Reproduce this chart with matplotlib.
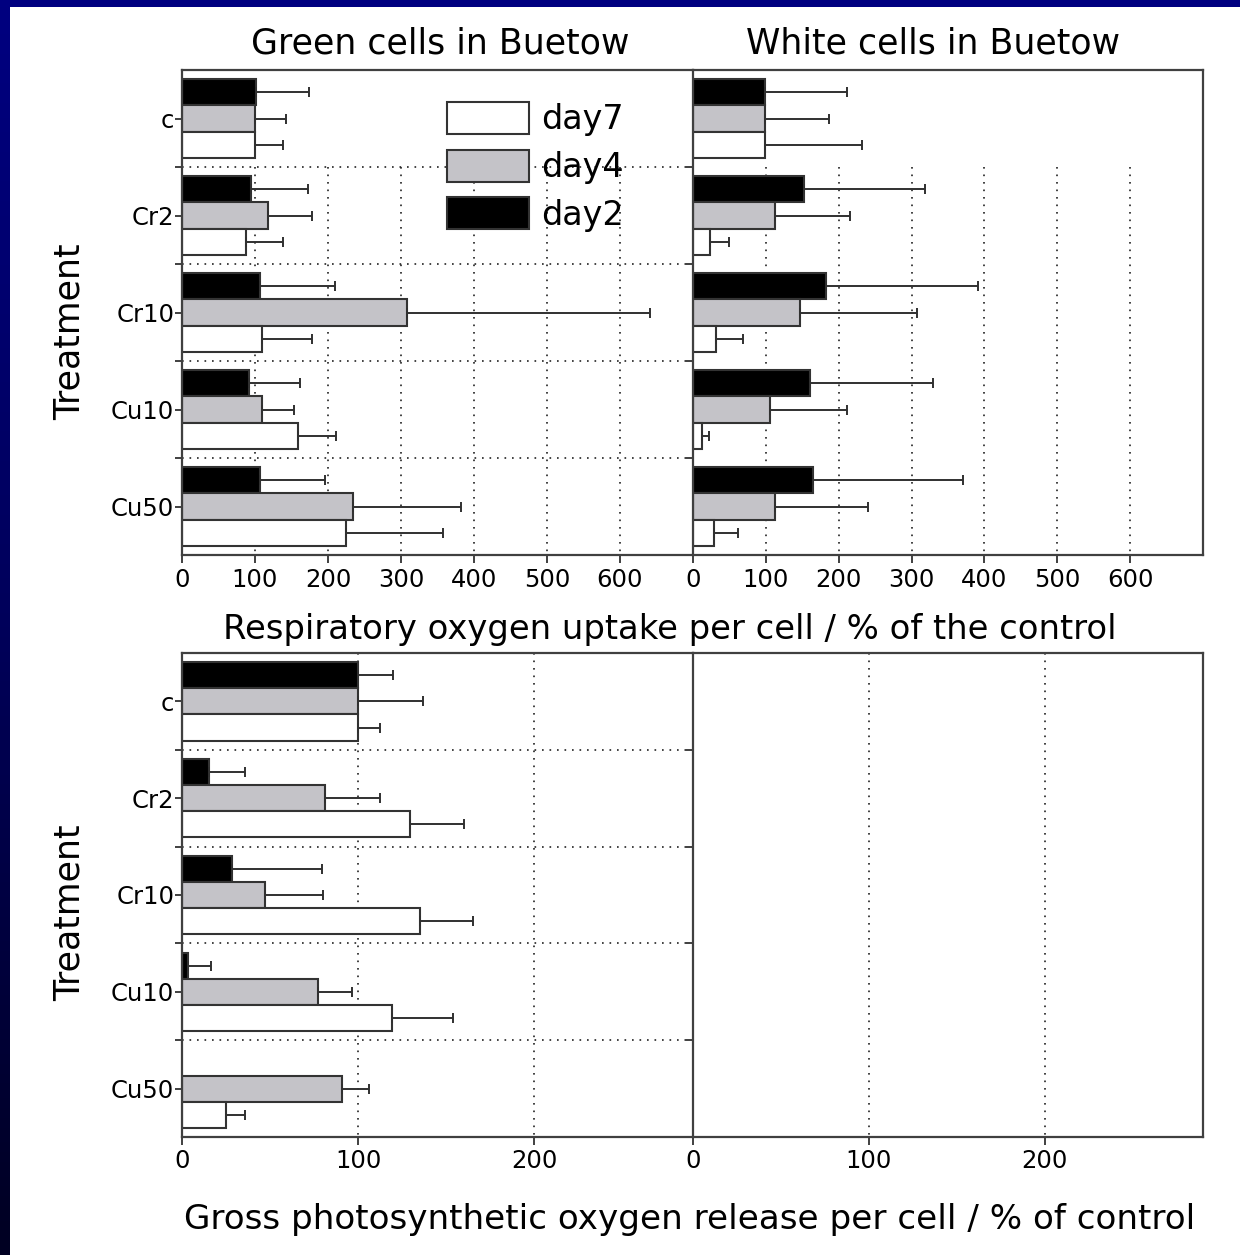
import numpy as np
import matplotlib
matplotlib.use("Agg")
import matplotlib.pyplot as plt
from matplotlib.patches import Patch
from matplotlib.colors import LinearSegmentedColormap

plt.rcParams['font.family'] = ['DejaVu Sans']

# ---------------- data ----------------
treatments = ['c', 'Cr2', 'Cr10', 'Cu10', 'Cu50']
series = ['day2', 'day4', 'day7']

# Green cells in Buetow (respiration, % of control)
green_day2 = [101, 95, 107, 92, 107]
green_day2_err = [73, 78, 103, 69, 89]
green_day4 = [100, 118, 308, 110, 234]
green_day4_err = [43, 60, 333, 43, 148]
green_day7 = [100, 88, 109, 159, 225]
green_day7_err = [39, 50, 69, 52, 132]

# White cells in Buetow (respiration, % of control)
white_day2 = [99, 152, 183, 161, 165]
white_day2_err = [113, 166, 208, 168, 205]
white_day4 = [99, 113, 147, 105, 113]
white_day4_err = [87, 102, 161, 106, 127]
white_day7 = [99, 24, 31, 12, 29]
white_day7_err = [133, 25, 37, 10, 33]

# Green cells, gross photosynthesis (% of control); nan = no bar
photo_day2 = [100, 15.6, 28.4, 3.6, np.nan]
photo_day2_err = [20, 20, 51, 12.7, np.nan]
photo_day4 = [100, 81, 47, 77, 91]
photo_day4_err = [37, 31.6, 33, 19.5, 15.2]
photo_day7 = [100, 129.5, 135, 119, 25]
photo_day7_err = [12.6, 30.5, 30, 35, 10.6]

top_xticks = [0, 100, 200, 300, 400, 500, 600]
bottom_xticks = [0, 100, 200]

# ---------------- style ----------------
colors = {'day2': '#000000', 'day4': '#c4c3c8', 'day7': '#ffffff'}
offsets = {'day2': -0.27, 'day4': 0.0, 'day7': 0.27}
bar_h = 0.27
edge = '#333333'
spine_c = '#404040'
dot_ls = (0, (1, 3.5))
tick_fs = 17.5

W, H = 1240, 1255
fig = plt.figure(figsize=(W / 100, H / 100), dpi=100)
fig.patch.set_facecolor('white')

# navy frame (top band + left gradient band)
band = fig.add_axes([0, 0, 10 / W, 1], zorder=-5)
grad = np.linspace(0, 1, 256).reshape(-1, 1)
cm = LinearSegmentedColormap.from_list('navy', ['#000080', '#00005a', '#000022'])
band.imshow(grad, aspect='auto', cmap=cm, extent=[0, 1, 0, 1], origin='upper')
band.set_axis_off()
topband = fig.add_axes([0, 1 - 7 / H, 1, 7 / H], zorder=-5)
topband.set_facecolor('#000080')
topband.set_xticks([]); topband.set_yticks([])
for s in topband.spines.values():
    s.set_visible(False)


def px_axes(x0, y0, x1, y1):
    return fig.add_axes([x0 / W, 1 - y1 / H, (x1 - x0) / W, (y1 - y0) / H])


ax_tl = px_axes(182, 70, 693, 555)
ax_tr = px_axes(693, 70, 1203, 555)
ax_bl = px_axes(182, 653, 693, 1137)
ax_br = px_axes(693, 653, 1203, 1137)

ypos = np.arange(len(treatments))
bounds = ypos[:-1] + 0.5


def draw(ax, data, xmax, xticks, hgrid, vgrid_from, ylabels):
    ax.set_xlim(0, xmax)
    ax.set_ylim(len(treatments) - 0.5, -0.5)
    # grid
    gx = [t for t in xticks if t > 0]
    ax.vlines(gx, vgrid_from, len(treatments) - 0.5, colors='#222222',
              linestyles=[dot_ls], linewidth=1.2, zorder=0)
    if hgrid:
        ax.hlines(bounds, 0, xmax, colors='#222222', linestyles=[dot_ls],
                  linewidth=1.2, zorder=0)
    for name, (vals, errs) in data.items():
        v = np.array(vals, dtype=float)
        e = np.array(errs, dtype=float)
        m = ~np.isnan(v)
        y = ypos[m] + offsets[name]
        ax.barh(y, v[m], height=bar_h, color=colors[name], edgecolor=edge,
                linewidth=1.5, zorder=2)
        xerr = np.vstack([np.zeros(m.sum()), e[m]])
        ax.errorbar(v[m], y, xerr=xerr, fmt='none', ecolor='#303030',
                    elinewidth=1.4, capsize=3.5, capthick=1.4, zorder=3)
    ax.set_xticks(xticks)
    ax.set_xticklabels([str(t) for t in xticks], fontsize=tick_fs)
    ax.set_yticks(bounds, minor=True)
    if ylabels:
        ax.set_yticks(ypos)
        ax.set_yticklabels(treatments, fontsize=tick_fs)
    else:
        ax.set_yticks([])
    ax.tick_params(axis='both', which='both', direction='out', length=5,
                   width=1.4, color=spine_c, pad=0.5)
    ax.tick_params(axis='x', pad=3, length=6)
    for s in ax.spines.values():
        s.set_color(spine_c)
        s.set_linewidth(1.6)


draw(ax_tl, {'day2': (green_day2, green_day2_err),
             'day4': (green_day4, green_day4_err),
             'day7': (green_day7, green_day7_err)},
     700, top_xticks, True, 0.5, True)
draw(ax_tr, {'day2': (white_day2, white_day2_err),
             'day4': (white_day4, white_day4_err),
             'day7': (white_day7, white_day7_err)},
     700, top_xticks, False, 0.5, False)
draw(ax_bl, {'day2': (photo_day2, photo_day2_err),
             'day4': (photo_day4, photo_day4_err),
             'day7': (photo_day7, photo_day7_err)},
     290, bottom_xticks, True, -0.5, True)
draw(ax_br, {}, 290, bottom_xticks, False, -0.5, False)
ax_tl.spines['right'].set_visible(False)
ax_bl.spines['right'].set_visible(False)

# legend
handles = [Patch(facecolor=colors[s], edgecolor=edge, linewidth=1.5)
           for s in ['day7', 'day4', 'day2']]
leg = ax_tl.legend(handles, ['day7', 'day4', 'day2'], loc='upper left',
                   bbox_to_anchor=((447 - 182) / 511, (555 - 102) / 485),
                   frameon=False, fontsize=24, handlelength=2.45,
                   handleheight=1.1, handletextpad=0.38, labelspacing=0.4,
                   borderpad=0, borderaxespad=0)

# texts
fig.text(440 / W, 1 - 44 / H, 'Green cells in Buetow', fontsize=25,
         ha='center', va='center')
fig.text(933 / W, 1 - 44 / H, 'White cells in Buetow', fontsize=25,
         ha='center', va='center')
fig.text(670 / W, 1 - 630 / H,
         'Respiratory oxygen uptake per cell / % of the control',
         fontsize=24.4, ha='center', va='center')
fig.text(690 / W, 1 - 1219 / H,
         'Gross photosynthetic oxygen release per cell / % of control',
         fontsize=24.6, ha='center', va='center')
fig.text(70 / W, 1 - 332 / H, 'Treatment', fontsize=25, rotation=90,
         ha='center', va='center')
fig.text(70 / W, 1 - 913 / H, 'Treatment', fontsize=25, rotation=90,
         ha='center', va='center')

fig.savefig('out.png', dpi=100, facecolor='white')
